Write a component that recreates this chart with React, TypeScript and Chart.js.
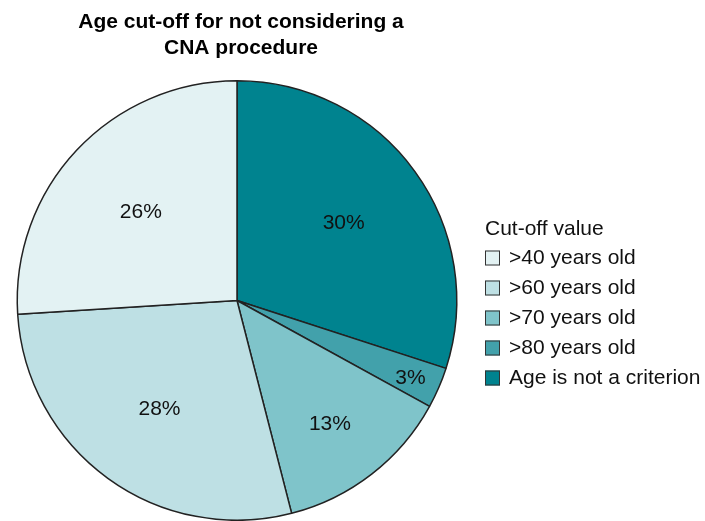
import React, { useEffect, useRef } from "react";
import { Chart, registerables } from "chart.js";

Chart.register(...registerables);

const titleLines = ["Age cut-off for not considering a", "CNA procedure"];
const legendTitle = "Cut-off value";
// slice order: clockwise from 12 o'clock
const sliceLabels = [
  "Age is not a criterion",
  ">80 years old",
  ">70 years old",
  ">60 years old",
  ">40 years old",
];
const sliceValues = [30, 3, 13, 28, 26];
const sliceColors = ["#00838F", "#42A1AB", "#7FC4CA", "#BEE0E4", "#E3F2F3"];
// legend order (top to bottom)
const legendOrder = [4, 3, 2, 1, 0];

const FONT = '"Liberation Sans", Arial, Helvetica, sans-serif';

export default function App() {
  const ref = useRef<HTMLCanvasElement | null>(null);

  useEffect(() => {
    document.body.style.margin = "0";
    const canvas = ref.current;
    if (!canvas) return;

    const labelRadiusFactor = [0.6, 0.86, 0.69, 0.6, 0.6];
    const labelYShift = [0, 3, 4, 2, 2];

    const overlay = {
      id: "overlay",
      afterDatasetsDraw(chart: any) {
        const ctx = chart.ctx;
        const meta = chart.getDatasetMeta(0);
        const total = sliceValues.reduce((a, b) => a + b, 0);
        ctx.save();
        ctx.fillStyle = "#111";
        ctx.font = `21px ${FONT}`;
        ctx.textAlign = "center";
        ctx.textBaseline = "middle";
        meta.data.forEach((arc: any, i: number) => {
          const p = arc.getProps(["x", "y", "startAngle", "endAngle", "outerRadius"], true);
          const mid = (p.startAngle + p.endAngle) / 2;
          const r = p.outerRadius * labelRadiusFactor[i];
          const pct = Math.round((sliceValues[i] / total) * 100) + "%";
          ctx.fillText(pct, p.x + Math.cos(mid) * r, p.y + Math.sin(mid) * r + labelYShift[i]);
        });

        // title
        ctx.font = `bold 21px ${FONT}`;
        ctx.fillStyle = "#000";
        titleLines.forEach((t, i) => ctx.fillText(t, 241, 22 + i * 26));

        // legend
        ctx.textAlign = "left";
        ctx.font = `21px ${FONT}`;
        ctx.fillStyle = "#111";
        ctx.fillText(legendTitle, 485, 229);
        legendOrder.forEach((idx, j) => {
          const cy = 258 + j * 30;
          ctx.fillStyle = sliceColors[idx];
          ctx.fillRect(485, cy - 7.5, 15, 15);
          ctx.strokeStyle = "#333";
          ctx.lineWidth = 1;
          ctx.strokeRect(485.5, cy - 7, 14, 14);
          ctx.fillStyle = "#111";
          ctx.fillText(sliceLabels[idx], 509, cy);
        });
        ctx.restore();
      },
    };

    const chart = new Chart(canvas, {
      type: "pie",
      data: {
        labels: sliceLabels,
        datasets: [
          {
            data: sliceValues,
            backgroundColor: sliceColors,
            borderColor: "#222",
            borderWidth: 1.5,
          },
        ],
      },
      options: {
        responsive: false,
        animation: false,
        layout: { padding: { left: 16, top: 80, right: 247, bottom: -1 } },
        plugins: {
          legend: { display: false },
          title: { display: false },
          tooltip: { enabled: false },
        },
      },
      plugins: [overlay],
    });
    return () => chart.destroy();
  }, []);

  return (
    <div style={{ width: 705, height: 521, overflow: "hidden", background: "#fff" }}>
      <canvas ref={ref} width={705} height={521} style={{ display: "block" }} />
    </div>
  );
}
